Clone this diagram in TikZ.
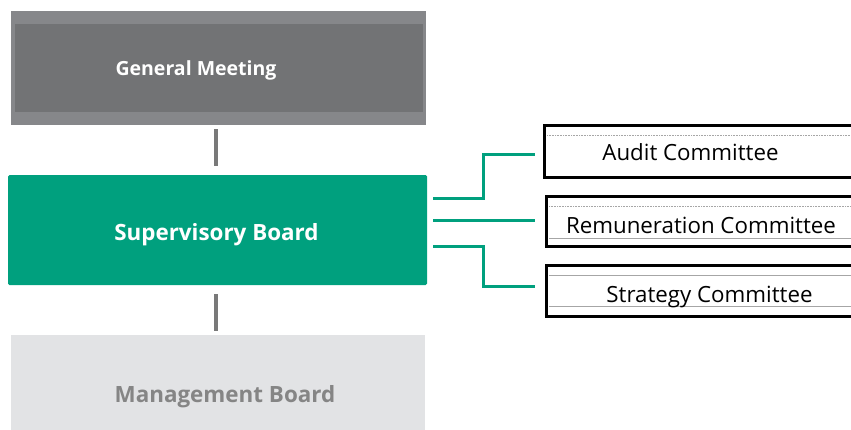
\documentclass[tikz,border=0pt]{standalone}
\usepackage{fontspec}
\setmainfont{Open Sans}
\begin{document}
\begin{tikzpicture}[x=1pt,y=-1pt,
  lbl/.style={font=\bfseries\fontsize{22.4}{26}\selectfont},
  lblsm/.style={font=\bfseries\fontsize{19.5}{23}\selectfont},
  com/.style={font=\fontsize{22.3}{26}\selectfont, text=black},
  gconn/.style={draw=gray!95!black, line width=3.5pt},
  tconn/.style={draw=teal2, line width=3pt},
  cbox/.style={draw=black, line width=3pt},
  thin/.style={draw=gray!70, line width=0.6pt}]
\definecolor{gmout}{HTML}{86878A}
\definecolor{gmin}{HTML}{727375}
\definecolor{teal2}{HTML}{00A07E}
\definecolor{mbfill}{HTML}{E2E3E5}
\definecolor{mbtext}{HTML}{858585}
\useasboundingbox (0,0) rectangle (851,429);
\clip (0,0) rectangle (851,429);
% General Meeting
\fill[gmout] (11,11) rectangle (426,125);
\fill[gmin] (15,24) rectangle (423,112);
\node[lblsm, text=white] (gm) at (196,70) {General Meeting};
% Supervisory Board
\fill[teal2, rounded corners=1.5pt] (8,175) rectangle (427,285);
\node[lbl, text=white] (sb) at (216.5,235) {Supervisory Board};
% Management Board
\fill[mbfill] (11,335) rectangle (425,440);
\node[lbl, text=mbtext] (mb) at (225,397) {Management Board};
% gray connectors
\coordinate (c1a) at (216,129);
\coordinate (c1b) at (216,166);
\coordinate (c2a) at (216,294);
\coordinate (c2b) at (216,331);
\draw[gconn] (c1a) -- (c1b);
\draw[gconn] (c2a) -- (c2b);
% committee boxes
\draw[cbox] (544,125) rectangle (870,177);
\draw[thin, densely dotted] (547,135) -- (870,135);
\node[com] (ac) at (690.5,152) {Audit Committee};
\draw[cbox] (546,196) rectangle (870,246);
\draw[thin, densely dotted] (549,206) -- (870,206);
\draw[thin] (549,238) -- (870,238);
\node[com] (rc) at (701,225) {Remuneration Committee};
\draw[cbox] (546,265) rectangle (870,316);
\draw[thin] (549,275) -- (870,275);
\draw[thin] (549,306) -- (870,306);
\node[com] (stc) at (709.5,297) {Strategy Committee};
% green connectors
\coordinate (s1) at (433,198);
\coordinate (s2) at (433,220);
\coordinate (s3) at (433,246);
\coordinate (e1) at (535,154);
\coordinate (e2) at (535,220);
\coordinate (e3) at (535,286);
\draw[tconn] (s1) -- (483,198) -- (483,154) -- (e1);
\draw[tconn] (s2) -- (e2);
\draw[tconn] (s3) -- (483,246) -- (483,286) -- (e3);
\end{tikzpicture}
\end{document}
